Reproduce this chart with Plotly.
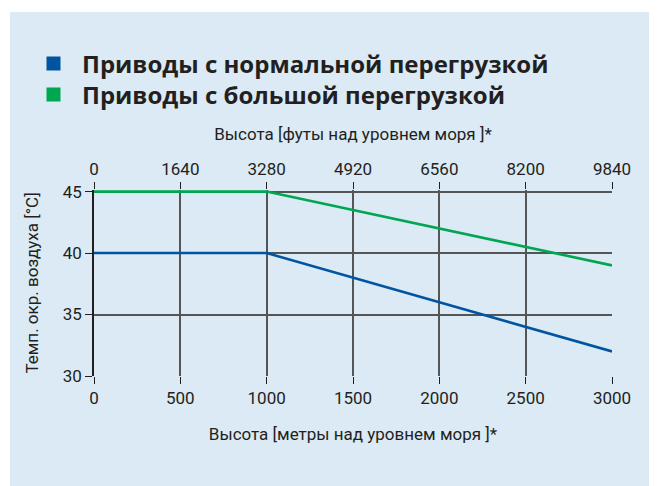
import plotly.graph_objects as go

altitude_m = [0, 1000, 3000]
normal_overload = [40, 40, 32]
heavy_overload = [45, 45, 39]
x_ticks_m = [0, 500, 1000, 1500, 2000, 2500, 3000]
x_ticks_ft = [0, 1640, 3280, 4920, 6560, 8200, 9840]
y_ticks = [30, 35, 40, 45]

names = ["Приводы с нормальной перегрузкой", "Приводы с большой перегрузкой"]
colors = ["#0054a2", "#00a650"]
bg = "#dbeaf4"

OFF = 8  # page body margin
W, H = 657 - OFF, 486 - OFF
L, R, T, B = 94 - OFF, 45, 190 - OFF, 110
pw, ph = W - L - R, H - T - B

def px_x(p):  # page pixel -> paper x
    return (p - OFF - L) / pw

def px_y(p):  # page pixel -> paper y
    return (H - B - (p - OFF)) / ph

fig = go.Figure()
legends = ["legend", "legend2"]
for name, ys, c, lg in zip(names, [normal_overload, heavy_overload], colors, legends):
    fig.add_trace(go.Scatter(x=altitude_m, y=ys, mode="lines", name=name,
                             line=dict(color=c, width=2.6), showlegend=False))
    fig.add_trace(go.Scatter(x=[None], y=[None], mode="markers", name=name,
                             marker=dict(symbol="square", size=14, color=c),
                             showlegend=True, legend=lg))
# secondary top axis (feet)
fig.add_trace(go.Scatter(x=[x_ticks_ft[0], x_ticks_ft[-1]], y=[None, None], xaxis="x2",
                         mode="lines", showlegend=False, hoverinfo="skip"))

tick_font = dict(family="Roboto", size=17, color="#231f20")
title_font = dict(family="Roboto", size=17, color="#231f20")
legend_font = dict(family="Open Sans", size=24, color="#231f20", weight="bold")

fig.add_shape(type="rect", xref="paper", yref="paper", layer="below",
              x0=px_x(10), x1=px_x(700), y0=px_y(520), y1=px_y(12),
              fillcolor=bg, line=dict(width=0))

legend_common = dict(xanchor="left", yanchor="middle", font=legend_font,
                     itemwidth=47, bgcolor="rgba(0,0,0,0)")

fig.update_layout(
    width=W, height=H,
    paper_bgcolor="white", plot_bgcolor=bg,
    margin=dict(l=L, r=R, t=T, b=B, autoexpand=False),
    legend=dict(x=px_x(25), y=px_y(64), **legend_common),
    legend2=dict(x=px_x(25), y=px_y(95), **legend_common),
    xaxis=dict(range=[0, 3000], tickvals=x_ticks_m, ticks="outside", ticklen=7,
               tickcolor="#231f20", tickwidth=1.3,
               showgrid=True, gridcolor="#555555", gridwidth=1.5,
               showline=False, zeroline=False, tickfont=tick_font,
               title=dict(text="Высота [метры над уровнем моря ]*", font=title_font, standoff=20)),
    xaxis2=dict(range=[0, 9840], overlaying="x", side="top", tickvals=x_ticks_ft,
                ticktext=[str(v) for v in x_ticks_ft],
                ticks="outside", ticklen=7, tickcolor="#231f20", tickwidth=1.3,
                showgrid=False, showline=False, zeroline=False, tickfont=tick_font,
                title=dict(text="Высота [футы над уровнем моря ]*", font=title_font, standoff=14)),
    yaxis=dict(range=[30, 45.13], tickvals=y_ticks, ticks="outside", ticklen=7,
               tickcolor="#231f20", tickwidth=1.3,
               showgrid=True, gridcolor="#555555", gridwidth=1.5,
               showline=True, linecolor="#231f20", linewidth=1.5,
               zeroline=False, tickfont=tick_font,
               title=dict(text="Темп. окр. воздуха [°C]", font=title_font, standoff=20)),
)
fig.write_html("out.html")
